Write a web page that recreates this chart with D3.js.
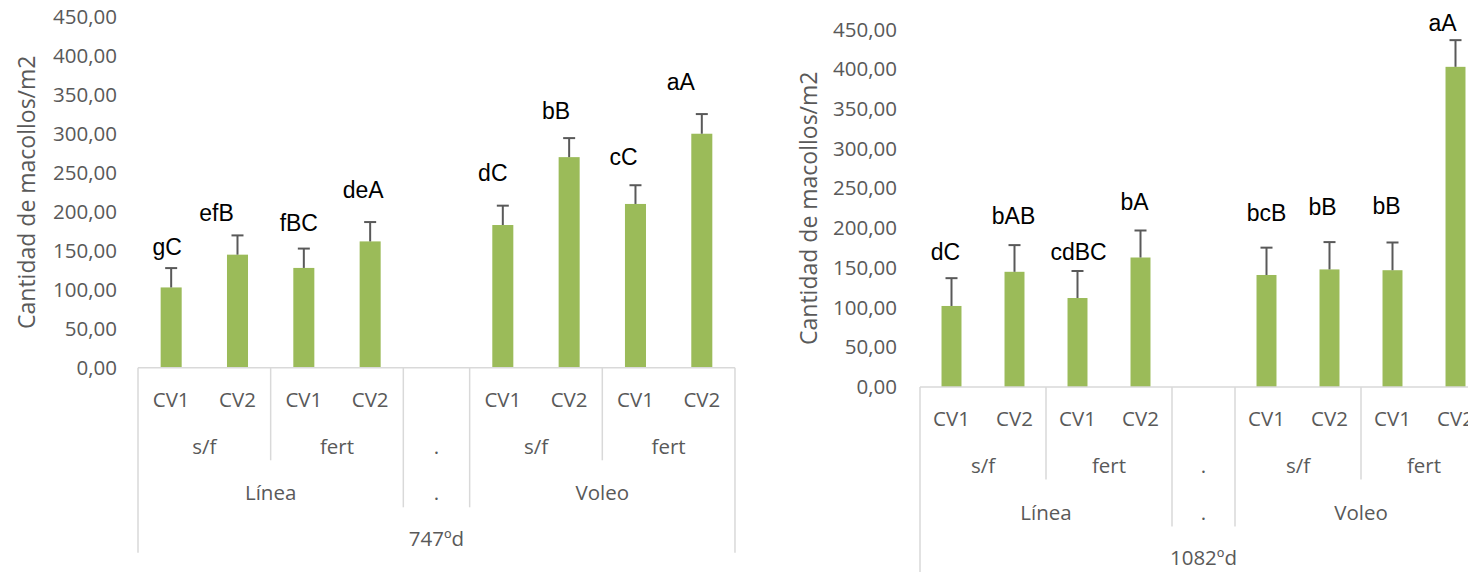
<!DOCTYPE html>
<html>
<head>
<meta charset="utf-8">
<script src="https://cdn.jsdelivr.net/npm/d3@7/dist/d3.min.js"></script>
<style>
  html, body { margin: 0; padding: 0; background: #ffffff; }
  svg { display: block; }
</style>
</head>
<body>
<svg id="chart" width="1468" height="572"></svg>
<script>
// Category levels of the multi-level axis (innermost first)
const cultivars = ["CV1", "CV2", "CV1", "CV2", "", "CV1", "CV2", "CV1", "CV2"];
const fertilization = ["s/f", "s/f", "fert", "fert", ".", "s/f", "s/f", "fert", "fert"];
const sowing = ["Línea", "Línea", "Línea", "Línea", ".", "Voleo", "Voleo", "Voleo", "Voleo"];

// Tillers per m2 at 747 degree-days
const tillers747 = [103, 145, 128, 162, null, 183, 270, 210, 300];
const error747 = [24.8, 24.7, 24.8, 24.8, null, 24.8, 24.4, 24.0, 25.2];
const letters747 = ["gC", "efB", "fBC", "deA", "", "dC", "bB", "cC", "aA"];

// Tillers per m2 at 1082 degree-days
const tillers1082 = [102, 145, 112, 163, null, 141, 148, 147, 403];
const error1082 = [35.0, 33.6, 34.0, 34.0, null, 34.4, 34.4, 34.9, 33.6];
const letters1082 = ["dC", "bAB", "cdBC", "bA", "", "bcB", "bB", "bB", "aA"];

const yTicks = [0, 50, 100, 150, 200, 250, 300, 350, 400, 450];
const yTitle = "Cantidad de macollos/m2";

// Hand placement of the significance letters: [dx, dy] from the error bar tip
const letterNudge747 = [[-4, -13], [-21, -14], [-5, -18], [-7, -24], [0, 0], [-10, -25], [-13, -19], [-12, -20], [-21, -24]];
const letterNudge1082 = [[-6, -18], [-1, -21], [1, -11], [-6, -20], [0, 0], [0, -27], [-7, -27], [-6, -28], [-13, -9]];

const svg = d3.select("#chart");
const locale = d3.formatLocale({ decimal: ",", thousands: ".", grouping: [3], currency: ["", ""] });
const fmt = locale.format(".2f");

const GRID = "#d9d9d9";
const TEXT = "#595959";
const BAR = "#9bbb59";

function drawPanel(cfg) {
  const g = svg.append("g");
  const n = cultivars.length;
  const x = d3.scaleBand()
    .domain(d3.range(n))
    .range([cfg.left, cfg.left + cfg.slot * n])
    .paddingInner(0.683)
    .paddingOuter(0.683 / 2);
  const y = d3.scaleLinear().domain([0, 450]).range([cfg.base, cfg.top]);

  // value axis labels
  const ax = g.append("g")
    .attr("transform", `translate(${cfg.left},0)`)
    .call(d3.axisLeft(y).tickValues(yTicks).tickSize(0).tickPadding(cfg.tickPad).tickFormat(fmt));
  ax.select(".domain").remove();
  ax.selectAll("text")
    .attr("fill", TEXT)
    .style("font-family", "'Open Sans', sans-serif")
    .style("font-size", "20.5px");

  // axis title
  g.append("text")
    .attr("transform", `translate(${cfg.titleX},${(cfg.base + cfg.top) / 2}) rotate(-90)`)
    .attr("text-anchor", "middle")
    .attr("dominant-baseline", "central")
    .attr("fill", TEXT)
    .style("font-family", "'Open Sans', sans-serif")
    .style("font-size", "23px")
    .text(yTitle);

  const idx = d3.range(n).filter(i => cfg.values[i] != null);

  // bars
  g.append("g").selectAll("rect")
    .data(idx)
    .join("rect")
    .attr("x", i => x(i))
    .attr("width", x.bandwidth())
    .attr("y", i => y(cfg.values[i]))
    .attr("height", i => y(0) - y(cfg.values[i]))
    .attr("fill", BAR);

  // error bars (plus direction)
  const eb = g.append("g").attr("stroke", "#595959").attr("stroke-width", 2).attr("fill", "none");
  idx.forEach(i => {
    const cx = x(i) + x.bandwidth() / 2;
    const yTop = y(cfg.values[i] + cfg.errors[i]);
    eb.append("line").attr("x1", cx).attr("x2", cx).attr("y1", y(cfg.values[i])).attr("y2", yTop);
    eb.append("line").attr("x1", cx - 6).attr("x2", cx + 6).attr("y1", yTop).attr("y2", yTop);
  });

  // significance letters
  g.append("g").selectAll("text")
    .data(idx)
    .join("text")
    .attr("x", i => x(i) + x.bandwidth() / 2 + cfg.nudge[i][0])
    .attr("y", i => y(cfg.values[i] + cfg.errors[i]) + cfg.nudge[i][1])
    .attr("text-anchor", "middle")
    .attr("fill", "#000000")
    .style("font-family", "'Liberation Sans', Arial, sans-serif")
    .style("font-size", "23px")
    .text(i => cfg.letters[i]);

  // category axis line
  const x0 = cfg.left, x1 = cfg.left + cfg.slot * n;
  g.append("line")
    .attr("x1", x0).attr("x2", x1)
    .attr("y1", cfg.base).attr("y2", cfg.base)
    .attr("stroke", GRID).attr("stroke-width", 1.5);

  const rowY = [31, 78, 124.5, 170];
  const sepEnd = [92.5, 139.5, 185];

  // boundaries between groups: fert groups, sowing groups, outer edges
  const bounds = [];
  bounds.push({ k: 0, depth: 2 });
  bounds.push({ k: n, depth: 2 });
  for (let k = 1; k < n; k++) {
    if (sowing[k] !== sowing[k - 1]) bounds.push({ k, depth: 1 });
    else if (fertilization[k] !== fertilization[k - 1]) bounds.push({ k, depth: 0 });
  }
  g.append("g").selectAll("line")
    .data(bounds)
    .join("line")
    .attr("x1", d => x0 + d.k * cfg.slot)
    .attr("x2", d => x0 + d.k * cfg.slot)
    .attr("y1", cfg.base)
    .attr("y2", d => cfg.base + sepEnd[d.depth])
    .attr("stroke", GRID).attr("stroke-width", 1.5);

  const labelStyle = sel => sel
    .attr("text-anchor", "middle")
    .attr("dominant-baseline", "central")
    .attr("fill", TEXT)
    .style("font-family", "'Open Sans', sans-serif")
    .style("font-size", "20.5px");

  // cultivar row
  g.append("g").selectAll("text")
    .data(d3.range(n))
    .join("text")
    .attr("x", i => x0 + (i + 0.5) * cfg.slot)
    .attr("y", cfg.base + rowY[0])
    .call(labelStyle)
    .text(i => cultivars[i]);

  // group rows from runs of equal consecutive labels
  function runs(keyFn, labelFn) {
    const out = [];
    for (let i = 0; i < n; i++) {
      const last = out[out.length - 1];
      if (last && last.key === keyFn(i)) last.end = i;
      else out.push({ key: keyFn(i), label: labelFn(i), start: i, end: i });
    }
    return out;
  }
  const fertRuns = runs(i => sowing[i] + "|" + fertilization[i], i => fertilization[i]);
  const sowRuns = runs(i => sowing[i], i => sowing[i]);

  [[fertRuns, rowY[1]], [sowRuns, rowY[2]]].forEach(([rs, dy]) => {
    g.append("g").selectAll("text")
      .data(rs)
      .join("text")
      .attr("x", r => x0 + ((r.start + r.end + 1) / 2) * cfg.slot)
      .attr("y", cfg.base + dy)
      .call(labelStyle)
      .text(r => r.label);
  });

  g.append("text")
    .attr("x", (x0 + x1) / 2)
    .attr("y", cfg.base + rowY[3])
    .call(labelStyle)
    .text(cfg.day);
}

drawPanel({
  left: 138, slot: 66.33, base: 367.8, top: 16.7, tickPad: 21, titleX: 26,
  values: tillers747, errors: error747, letters: letters747, nudge: letterNudge747, day: "747ºd"
});

drawPanel({
  left: 920, slot: 63, base: 387, top: 29.5, tickPad: 23, titleX: 808,
  values: tillers1082, errors: error1082, letters: letters1082, nudge: letterNudge1082, day: "1082ºd"
});
</script>
</body>
</html>
